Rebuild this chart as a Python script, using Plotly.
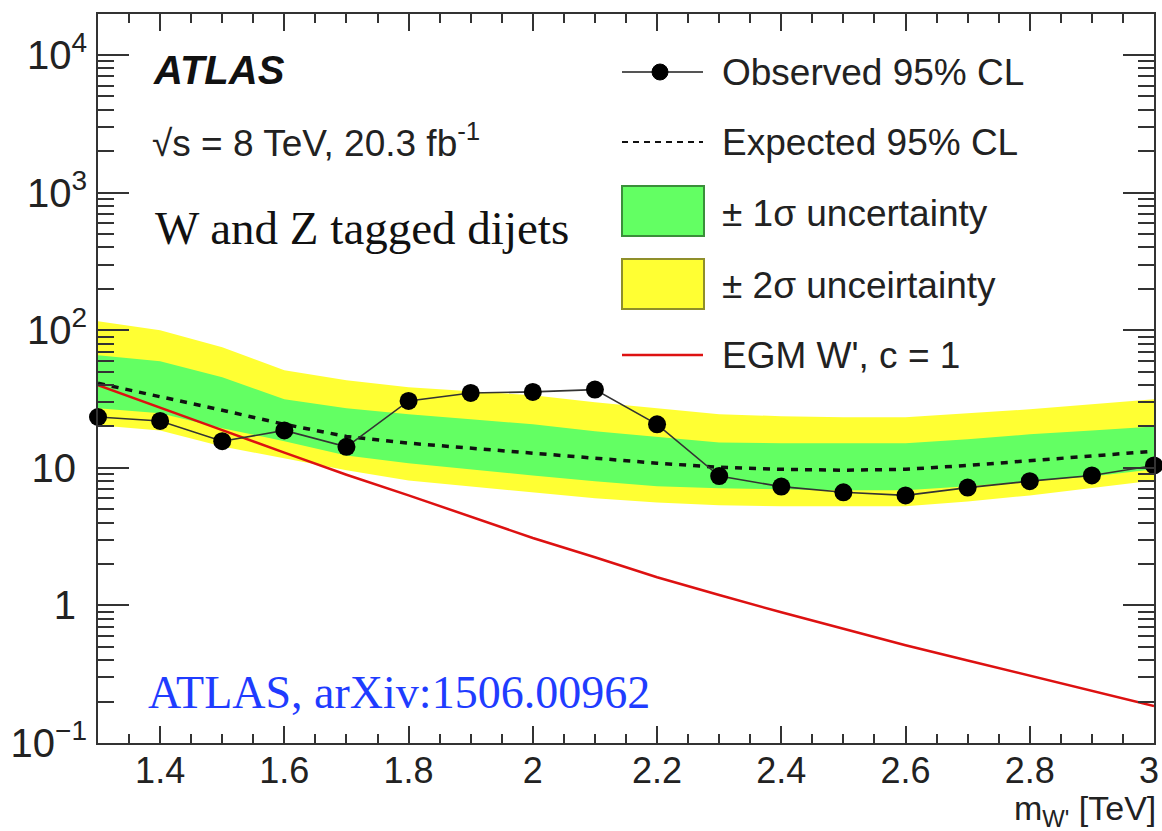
import plotly.graph_objects as go

# ---------------- data ----------------
mass = [1.3, 1.4, 1.5, 1.6, 1.7, 1.8, 1.9, 2.0, 2.1, 2.2, 2.3, 2.4, 2.5, 2.6, 2.7, 2.8, 2.9, 3.0]
observed = [23.4, 21.9, 15.6, 18.7, 14.2, 30.6, 35.0, 35.6, 37.0, 20.7, 8.7, 7.3, 6.64, 6.3, 7.18, 8.0, 8.8, 10.4]
expected = [41.2, 33.1, 26.2, 20.7, 16.9, 15.1, 13.9, 12.7, 11.7, 10.8, 10.1, 9.75, 9.6, 9.75, 10.4, 11.3, 12.1, 13.2]
sigma1_up = [65.8, 59.5, 45.5, 31.5, 27.1, 24.5, 22.5, 20.7, 18.4, 16.7, 15.3, 15.1, 15.1, 15.1, 16.1, 17.5, 18.7, 20.0]
sigma1_dn = [27.1, 24.9, 19.4, 15.6, 12.3, 10.8, 9.75, 8.8, 7.97, 7.33, 7.09, 6.98, 6.86, 6.86, 7.33, 7.97, 8.66, 9.75]
sigma2_up = [116, 100, 75.2, 51.2, 43.3, 38.5, 36.0, 33.7, 29.9, 27.1, 24.5, 23.7, 23.3, 23.3, 24.9, 26.6, 29.0, 31.5]
sigma2_dn = [20.4, 18.7, 14.3, 11.7, 9.6, 8.1, 7.33, 6.64, 6.0, 5.6, 5.34, 5.25, 5.25, 5.25, 5.7, 6.3, 7.1, 8.1]
egm_wprime = [39.8, 27.5, 18.8, 12.9, 8.91, 6.31, 4.42, 3.09, 2.24, 1.60, 1.19, 0.891, 0.676, 0.513, 0.398, 0.309, 0.240, 0.186]

x_tickvals = [1.4, 1.6, 1.8, 2.0, 2.2, 2.4, 2.6, 2.8, 3.0]
x_ticktext = ["1.4", "1.6", "1.8", "2", "2.2", "2.4", "2.6", "2.8", "3&nbsp;"]
y_tickvals = [0.1, 1, 10, 100, 1000, 10000]
y_ticktext = ["10<sup>\u22121</sup>", "1&nbsp;", "10&nbsp;", "10<sup>2</sup>", "10<sup>3</sup>", "10<sup>4</sup>"]

legend_labels = ["Observed 95% CL", "Expected 95% CL", "\u00b1 1\u03c3 uncertainty",
                 "\u00b1 2\u03c3 unceirtainty", "EGM W', c = 1"]

# ---------------- layout geometry ----------------
W, H = 1162, 831
L, R, T, B = 98, 8, 14, 88
PW, PH = W - L - R, H - T - B


def px(x):
    return (x - L) / PW


def py(y):
    return (H - B - y) / PH


YELLOW = "#ffff33"
GREEN = "#63ff63"
SANS = "Liberation Sans, Arial, Helvetica, sans-serif"
SERIF = "Liberation Serif, Times New Roman, serif"

fig = go.Figure()

fig.add_trace(go.Scatter(x=mass + mass[::-1], y=sigma2_up + sigma2_dn[::-1], fill="toself",
                         fillcolor=YELLOW, line=dict(width=0), mode="lines",
                         hoverinfo="skip", showlegend=False))
fig.add_trace(go.Scatter(x=mass + mass[::-1], y=sigma1_up + sigma1_dn[::-1], fill="toself",
                         fillcolor=GREEN, line=dict(width=0), mode="lines",
                         hoverinfo="skip", showlegend=False))
fig.add_trace(go.Scatter(x=mass, y=expected, mode="lines",
                         line=dict(color="#111", width=3.5, dash="7px,7px"), showlegend=False))
fig.add_trace(go.Scatter(x=mass, y=egm_wprime, mode="lines",
                         line=dict(color="#dd1111", width=2.5), showlegend=False))
fig.add_trace(go.Scatter(x=mass, y=observed, mode="lines+markers", cliponaxis=False,
                         line=dict(color="#333", width=1.6),
                         marker=dict(color="black", size=18), showlegend=False))

x_minor = [round(1.35 + 0.05 * i, 2) for i in range(33)]
x_minor = [v for v in x_minor if abs((v - 1.4) / 0.2 - round((v - 1.4) / 0.2)) > 1e-6]
y_minor = [k * 10 ** d for d in range(-1, 4) for k in range(2, 10)]

axis_common = dict(showline=True, linecolor="#333", linewidth=2, mirror="ticks",
                   ticks="inside", tickcolor="#333", tickwidth=2, showgrid=False, zeroline=False,
                   ticklabeloverflow="allow")

fig.update_xaxes(range=[1.3, 3.0], tickvals=x_tickvals, ticktext=x_ticktext, ticklen=17,
                 tickfont=dict(family=SANS, size=36, color="#222"),
                 minor=dict(tickvals=x_minor, ticklen=9, ticks="inside", tickcolor="#333", tickwidth=2),
                 ticklabelstandoff=-5, **axis_common)
fig.update_yaxes(type="log", range=[-1, 4.298], tickvals=y_tickvals, ticktext=y_ticktext, ticklen=31,
                 tickfont=dict(family=SANS, size=40, color="#222"),
                 minor=dict(tickvals=y_minor, ticklen=16, ticks="inside", tickcolor="#333", tickwidth=2),
                 ticklabelstandoff=1, **axis_common)

ann = []
shapes = []
# text labels
ann.append(dict(x=px(151), y=py(70), text="<b><i>ATLAS</i></b>", font=dict(family=SANS, size=40, color="#111")))
ann.append(dict(x=px(150), y=py(140), text="\u221as = 8 TeV, 20.3 fb<sup>-1</sup>",
                font=dict(family=SANS, size=37, color="#222")))
ann.append(dict(x=px(153), y=py(228), text="W and Z tagged dijets", font=dict(family=SERIF, size=47, color="#111")))
ann.append(dict(x=px(146), y=py(692), text="ATLAS, arXiv:1506.00962", font=dict(family=SERIF, size=46, color="#1f3cff")))
ann.append(dict(x=px(1158), y=py(810), text="m<sub>W'</sub> [TeV]", xanchor="right",
                font=dict(family=SANS, size=34, color="#222")))

# legend
leg_y = [72, 142, 213, 285, 355]
for lab, yy in zip(legend_labels, leg_y):
    ann.append(dict(x=px(720), y=py(yy), text=lab, font=dict(family=SANS, size=37, color="#222")))
for a in ann:
    a.update(xref="paper", yref="paper", showarrow=False, yanchor="middle")
    a.setdefault("xanchor", "left")

# observed symbol
shapes.append(dict(type="line", x0=px(622), x1=px(703), y0=py(72), y1=py(72), line=dict(color="#555", width=2)))
shapes.append(dict(type="circle", x0=px(652), x1=px(668), y0=py(80), y1=py(64),
                   fillcolor="black", line=dict(color="black", width=1)))
# expected symbol
shapes.append(dict(type="line", x0=px(622), x1=px(703), y0=py(142), y1=py(142),
                   line=dict(color="#111", width=2, dash="6px,5px")))
# band boxes
shapes.append(dict(type="rect", x0=px(622), x1=px(704), y0=py(236), y1=py(186), fillcolor=GREEN,
                   line=dict(color="#3a8f3a", width=2)))
shapes.append(dict(type="rect", x0=px(622), x1=px(704), y0=py(309), y1=py(259), fillcolor=YELLOW,
                   line=dict(color="#8f8f2a", width=2)))
# EGM symbol
shapes.append(dict(type="line", x0=px(622), x1=px(703), y0=py(355), y1=py(355), line=dict(color="#dd1111", width=2.5)))
for s in shapes:
    s.update(xref="paper", yref="paper")

fig.update_layout(width=W, height=H, margin=dict(l=L, r=R, t=T, b=B, autoexpand=False),
                  plot_bgcolor="white", paper_bgcolor="white",
                  annotations=ann, shapes=shapes, showlegend=False)

fig.write_html("out.html")
